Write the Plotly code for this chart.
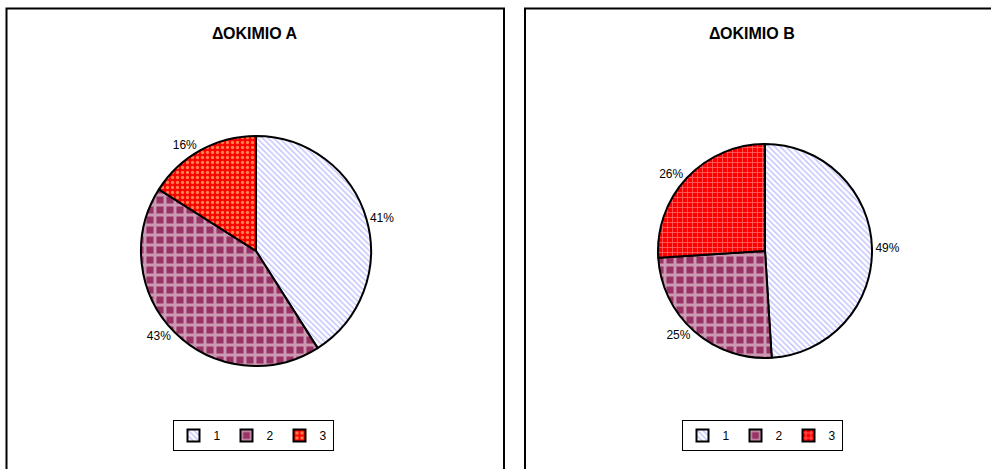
import plotly.graph_objects as go

# ---- data ----
labels = ["1", "2", "3"]
labels_b = ["1 ", "2 ", "3 "]  # same text, distinct keys so the 2nd legend gets its own entries
values_a = [41, 43, 16]
values_b = [49, 25, 26]
titles = ["ΔΟΚΙΜΙΟ Α", "ΔΟΚΙΜΙΟ Β"]

W, H = 991, 469


def fx(x):
    return x / W


def fy(y):
    return 1 - y / H


FONT = "Arial, Liberation Sans, sans-serif"

pat_a = dict(
    shape=["\\", "+", "."],
    fgcolor=["#8080FF", "#FFFFFF", "#FFFF99"],
    bgcolor=["#FFFFFF", "#993366", "#FF0000"],
    size=[4, 10, 5],
    solidity=[0.35, 0.5, 0.35],
    fillmode="overlay",
)
pat_b = dict(
    shape=["\\", "+", "+"],
    fgcolor=["#8080FF", "#FFFFFF", "#FFCCCC"],
    bgcolor=["#FFFFFF", "#993366", "#FF0000"],
    size=[4, 10, 5],
    solidity=[0.35, 0.5, 0.3],
    fillmode="overlay",
)

fig = go.Figure()

# Pie A
ca, ra = (256, 251), 115
fig.add_trace(go.Pie(
    labels=labels, values=values_a, sort=False, direction="clockwise", rotation=0,
    textinfo="percent", texttemplate="%{percent:.0%}", textposition="outside",
    outsidetextfont=dict(family=FONT, size=12, color="#000000"),
    marker=dict(pattern=pat_a, line=dict(color="#000000", width=2)),
    domain=dict(x=[fx(ca[0] - ra), fx(ca[0] + ra)], y=[fy(ca[1] + ra), fy(ca[1] - ra)]),
    legend="legend", hoverinfo="label+percent", automargin=False,
))

# Pie B
cb, rb = (765, 251), 107
fig.add_trace(go.Pie(
    labels=labels_b, values=values_b, sort=False, direction="clockwise", rotation=0,
    textinfo="percent", texttemplate="%{percent:.0%}", textposition="outside",
    outsidetextfont=dict(family=FONT, size=12, color="#000000"),
    marker=dict(pattern=pat_b, line=dict(color="#000000", width=2)),
    domain=dict(x=[fx(cb[0] - rb), fx(cb[0] + rb)], y=[fy(cb[1] + rb), fy(cb[1] - rb)]),
    legend="legend2", hoverinfo="label+percent", automargin=False,
))

shapes = [
    dict(type="rect", xref="paper", yref="paper", x0=fx(6.5), x1=fx(504), y0=-0.1, y1=fy(8.5),
         line=dict(color="#000000", width=2)),
    dict(type="rect", xref="paper", yref="paper", x0=fx(525), x1=1.1, y0=-0.1, y1=fy(8.5),
         line=dict(color="#000000", width=2)),
]

annotations = [
    dict(text="<b>%s</b>" % titles[0], x=fx(255), y=fy(33), xref="paper", yref="paper",
         showarrow=False, xanchor="center", yanchor="middle",
         font=dict(family=FONT, size=16, color="#000000")),
    dict(text="<b>%s</b>" % titles[1], x=fx(752), y=fy(33), xref="paper", yref="paper",
         showarrow=False, xanchor="center", yanchor="middle",
         font=dict(family=FONT, size=16, color="#000000")),
]

leg_common = dict(orientation="h", yanchor="top", xanchor="center", bgcolor="#FFFFFF",
                  bordercolor="#000000", borderwidth=1,
                  font=dict(family=FONT, size=12, color="#000000"),
                  itemwidth=30, entrywidth=8, entrywidthmode="pixels", tracegroupgap=0)

fig.update_layout(
    width=W, height=H,
    margin=dict(l=0, r=0, t=0, b=0),
    paper_bgcolor="#FFFFFF", plot_bgcolor="#FFFFFF",
    shapes=shapes, annotations=annotations,
    legend=dict(x=fx(253), y=fy(420), **leg_common),
    legend2=dict(x=fx(762), y=fy(420), **leg_common),
    font=dict(family=FONT),
)

fig.write_html("out.html")
